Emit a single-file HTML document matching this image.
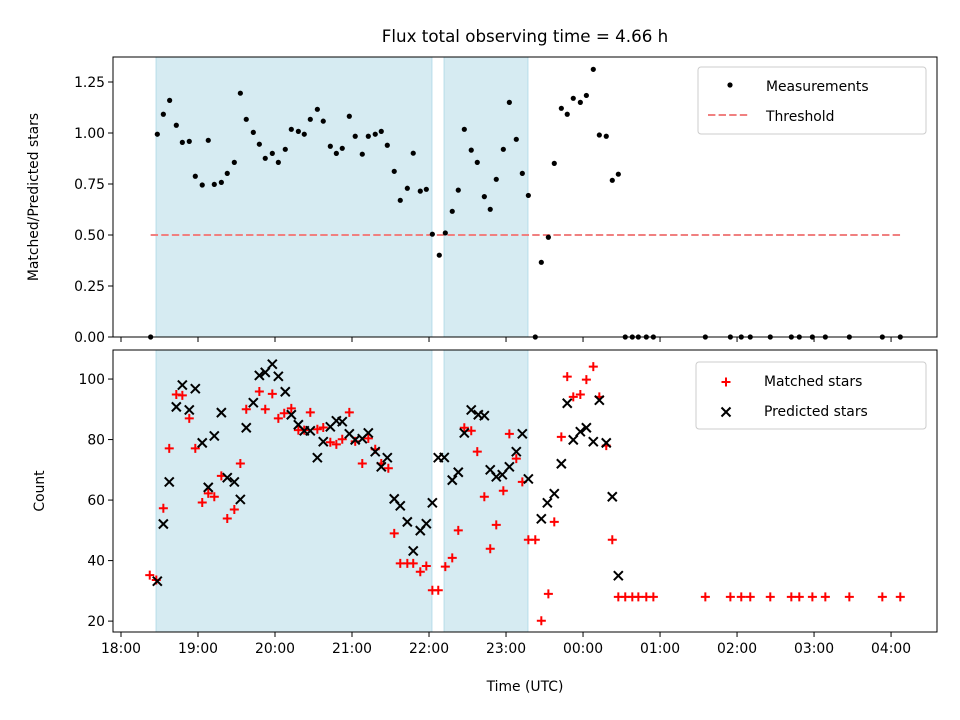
<!DOCTYPE html>
<html><head><meta charset="utf-8"><style>
body{margin:0;background:#fff;}
svg{display:block;font-family:"DejaVu Sans","Liberation Sans",sans-serif;}
</style></head><body>
<svg id="chart" width="960" height="720" viewBox="0 0 960 720" xmlns="http://www.w3.org/2000/svg">
<text x="525" y="42" font-size="16.7" text-anchor="middle">Flux total observing time = 4.66 h</text>
<g id="top"></g><g id="bot"></g>
<text x="525" y="691" font-size="13.9" text-anchor="middle">Time (UTC)</text>
<text transform="translate(38,197) rotate(-90)" font-size="13.9" text-anchor="middle">Matched/Predicted stars</text>
<text transform="translate(44,491) rotate(-90)" font-size="13.9" text-anchor="middle">Count</text>
</svg>
<script>
// minutes since 18:00
const shadeSpans=[[27.3,242.3],[251.7,317.1]];
const ratioTimes=[23.1,28.3,33.0,37.9,43.1,47.8,53.2,57.9,63.3,68.0,72.7,78.2,82.8,88.3,93.0,97.6,103.1,107.8,112.4,117.9,122.6,128.0,132.7,138.2,142.8,147.5,153.0,157.6,163.1,167.8,172.4,177.9,182.5,188.0,192.7,198.1,202.8,207.5,212.9,217.6,223.1,227.7,233.2,237.9,242.6,248.0,252.7,258.1,262.8,267.5,272.9,277.6,283.1,287.7,292.4,297.9,302.6,308.0,312.7,317.4,322.8,327.5,333.0,337.6,343.1,347.7,352.4,357.9,362.6,368.0,372.7,378.1,382.8,387.5,392.9,398.4,403.1,409.3,414.8,455.3,474.8,483.3,490.3,505.9,522.3,528.5,538.7,548.8,567.5,593.2,607.2];
const ratioValues=[0,0.994,1.092,1.160,1.038,0.954,0.959,0.788,0.745,0.964,0.748,0.758,0.802,0.856,1.195,1.067,1.003,0.945,0.876,0.900,0.856,0.920,1.018,1.008,0.994,1.067,1.116,1.058,0.935,0.900,0.925,1.082,0.984,0.896,0.984,0.994,1.008,0.940,0.812,0.670,0.729,0.901,0.715,0.724,0.504,0.401,0.510,0.616,0.720,1.018,0.916,0.856,0.688,0.626,0.773,0.920,1.150,0.969,0.802,0.694,0,0.366,0.489,0.851,1.121,1.092,1.170,1.150,1.184,1.312,0.990,0.984,0.768,0.798,0,0,0,0,0,0,0,0,0,0,0,0,0,0,0,0,0];
const threshold=0.5;
const matchedTimes=[22.4,27.5,33.0,37.6,43.1,47.8,53.2,57.9,63.3,68.0,72.7,78.2,82.8,88.3,93.0,97.6,107.8,112.4,117.9,122.6,127.2,132.7,138.2,142.8,147.5,153.0,157.6,163.1,167.8,172.4,177.9,182.5,188.0,192.7,198.1,202.8,208.3,212.9,217.6,223.1,227.7,233.2,237.9,242.6,247.2,252.7,258.1,262.8,267.5,272.9,277.6,283.1,287.7,292.4,297.9,302.6,308.0,312.7,317.4,322.8,327.5,333.0,337.6,343.1,347.7,352.4,357.9,362.6,368.0,372.7,378.1,382.8,387.5,392.9,398.4,403.1,409.3,414.8,455.3,474.8,483.3,490.3,505.9,522.3,528.5,538.7,548.8,567.5,593.2,607.2];
const matchedValues=[35.2,33.6,57.3,77.1,94.9,94.6,87.0,77.1,59.2,62.2,61.1,68.0,53.9,56.9,72.1,90.0,95.9,90.0,95.1,87.0,88.7,90.3,83.1,83.1,89.0,83.4,84.0,79.1,78.4,80.1,89.0,79.4,72.1,80.4,76.8,72.1,70.5,49.0,39.1,39.1,39.1,36.3,38.2,30.2,30.2,38.0,40.9,50.0,83.9,82.9,76.0,61.1,43.9,51.8,63.1,81.9,73.7,66.0,46.9,46.9,20.1,29.0,52.8,80.9,100.8,94.1,94.9,99.8,104.1,94.1,78.0,46.9,28,28,28,28,28,28,28,28,28,28,28,28,28,28,28,28,28,28];
const predictedTimes=[28.3,33.0,37.6,43.1,47.8,53.2,57.9,63.3,68.0,72.7,78.2,82.8,88.3,93.0,97.6,103.1,107.8,112.4,117.9,122.6,128.0,132.7,138.2,142.8,147.5,153.0,157.6,163.1,167.8,172.4,177.9,182.5,188.0,192.7,198.1,202.8,207.5,212.9,217.6,223.1,227.7,233.2,237.9,242.6,247.2,251.9,258.1,262.8,267.5,272.9,278.4,283.1,287.7,292.4,297.1,302.6,308.0,312.7,317.4,327.5,332.2,337.6,343.1,347.7,352.4,357.9,362.6,368.0,372.7,378.1,382.8,387.5];
const predictedValues=[33.2,52.1,66.0,90.8,98.0,89.8,96.8,78.9,64.2,81.2,88.9,67.4,66.0,60.2,83.9,92.2,101.2,102.2,104.9,100.9,95.8,88.2,84.9,82.9,82.9,74.0,79.3,84.2,86.2,85.9,81.9,79.9,80.3,82.2,76.0,71.0,74.0,60.4,58.1,52.8,43.2,49.9,52.2,59.1,74.0,74.1,66.6,69.2,82.2,89.8,88.2,87.9,70.0,67.7,68.4,71.0,76.0,81.9,67.0,53.8,59.1,62.1,72.0,92.0,79.9,82.6,83.9,79.3,93.0,78.9,61.1,35.0];
const xTickLabels=["18:00","19:00","20:00","21:00","22:00","23:00","00:00","01:00","02:00","03:00","04:00"];
const topTicks=["0.00","0.25","0.50","0.75","1.00","1.25"];
const botTicks=["20","40","60","80","100"];

const NS="http://www.w3.org/2000/svg";
const L=113,R=937,XMIN=-6.23,XMAX=635.8;
const X=m=>L+(m-XMIN)/(XMAX-XMIN)*(R-L);
const T={top:57,bot:337,min:0,max:1.3725};
const B={top:350,bot:632,min:16.4,max:109.6};
const Yt=v=>T.bot-(v-T.min)/(T.max-T.min)*(T.bot-T.top);
const Yb=v=>B.bot-(v-B.min)/(B.max-B.min)*(B.bot-B.top);
function mk(p,tag,a){const e=document.createElementNS(NS,tag);for(const k in a)e.setAttribute(k,a[k]);p.appendChild(e);return e;}
const gt=document.getElementById('top'),gb=document.getElementById('bot');

function panel(g,P,Y,ticks,showX,name){
  shadeSpans.forEach(s=>{const r=mk(g,'rect',{x:X(s[0]),y:P.top,width:X(s[1])-X(s[0]),height:P.bot-P.top,fill:'#add8e6','fill-opacity':0.5,stroke:'#add8e6','stroke-opacity':0.8});
    
    });
  xTickLabels.forEach((t,i)=>{const x=X(i*60);
    const l=mk(g,'line',{x1:x,x2:x,y1:P.bot,y2:P.bot+5,stroke:'#000','stroke-width':1});
    
    
    if(showX){const tx=mk(g,'text',{x:x,y:P.bot+21,'font-size':13.9,'text-anchor':'middle'});tx.textContent=t;
      
      }
  });
  ticks.forEach(t=>{const y=Y(parseFloat(t));
    const l=mk(g,'line',{x1:L-5,x2:L,y1:y,y2:y,stroke:'#000','stroke-width':1});
    
    
    const tx=mk(g,'text',{x:L-8,y:y+5,'font-size':13.9,'text-anchor':'end'});tx.textContent=t;
    
    });
}
panel(gt,T,Yt,topTicks,false,'top');
panel(gb,B,Yb,botTicks,true,'bot');

const th=mk(gt,'line',{x1:X(23.1),x2:X(607.2),y1:Yt(threshold),y2:Yt(threshold),stroke:'#f08080','stroke-width':2,'stroke-dasharray':'7.4,3.2'});


ratioTimes.forEach((t,i)=>{const c=mk(gt,'circle',{cx:X(t),cy:Yt(ratioValues[i]),r:2.6,fill:'#000'});
  
  });
function plus(g,x,y,col){const p=mk(g,'path',{d:`M${x-4.5},${y}H${x+4.5}M${x},${y-4.5}V${y+4.5}`,stroke:col,'stroke-width':2,fill:'none'});return p;}
function cross(g,x,y,col){return mk(g,'path',{d:`M${x-4.5},${y-4.5}L${x+4.5},${y+4.5}M${x-4.5},${y+4.5}L${x+4.5},${y-4.5}`,stroke:col,'stroke-width':2,fill:'none'});}
matchedTimes.forEach((t,i)=>{const p=plus(gb,X(t),Yb(matchedValues[i]),'#f00');
  
  });
predictedTimes.forEach((t,i)=>{const p=cross(gb,X(t),Yb(predictedValues[i]),'#000');
  
  });

[[T,gt,'top-axes-frame'],[B,gb,'bottom-axes-frame']].forEach(([P,g,n])=>{const r=mk(g,'rect',{x:L,y:P.top,width:R-L,height:P.bot-P.top,fill:'none',stroke:'#000','stroke-width':1});
  
  });

function legend(g,x,y,w,items,name){
  const lg=mk(g,'g',{});
  
  
  mk(lg,'rect',{x:x,y:y,width:w,height:67,rx:3,fill:'#fff','fill-opacity':0.8,stroke:'#ccc'});
  items.forEach((it,i)=>{const cy=y+17+i*30;
    if(it[0]==='dot')mk(lg,'circle',{cx:x+32,cy:cy+1,r:2.6,fill:'#000'});
    else if(it[0]==='dash')mk(lg,'line',{x1:x+10,x2:x+52,y1:cy+1,y2:cy+1,stroke:'#f08080','stroke-width':2,'stroke-dasharray':'7.4,3.2'});
    else if(it[0]==='plus')plus(lg,x+30,cy+3,'#f00');
    else cross(lg,x+30,cy+3,'#000');
    const t=mk(lg,'text',{x:x+68,y:cy+7,'font-size':13.9});t.textContent=it[1];
    
    });
}
legend(gt,698,67,228,[['dot','Measurements'],['dash','Threshold']],'top-legend');
legend(gb,696,362,230,[['plus','Matched stars'],['cross','Predicted stars']],'bottom-legend');
</script>
</body></html>
